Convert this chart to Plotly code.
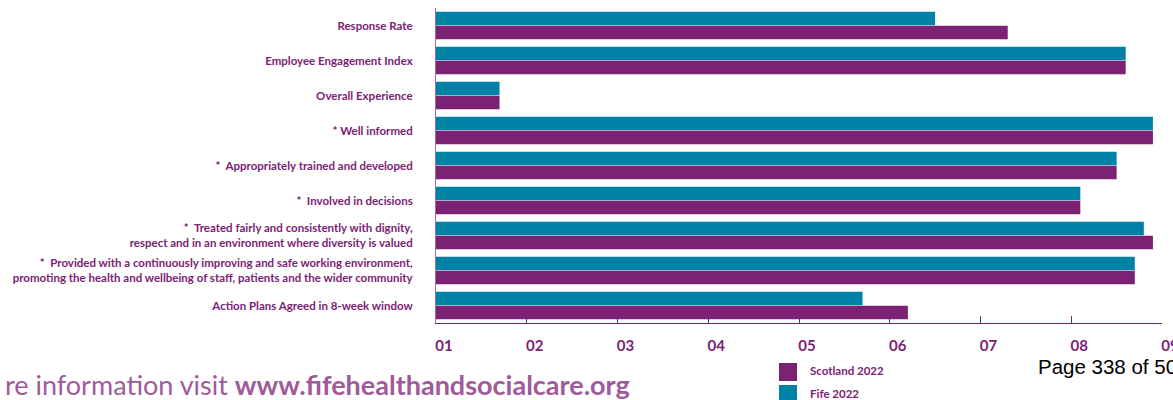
import plotly.graph_objects as go

# ── Data ────────────────────────────────────────────────────────────────────
categories = [
    "Response Rate",
    "Employee Engagement Index",
    "Overall Experience",
    "* Well informed",
    "*  Appropriately trained and developed",
    "*  Involved in decisions",
    "*  Treated fairly and consistently with dignity,<br>respect and in an environment where diversity is valued",
    "*  Provided with a continuously improving and safe working environment,<br>promoting the health and wellbeing of staff, patients and the wider community",
    "Action Plans Agreed in 8-week window",
]
fife_2022 = [55, 76, 7, 79, 75, 71, 78, 77, 47]
scotland_2022 = [63, 76, 7, 79, 75, 71, 79, 77, 52]

x_tickvals = [0, 10, 20, 30, 40, 50, 60, 70, 80]
x_ticktext = ["01", "02", "03", "04", "05", "06", "07", "08", "09"]

PURPLE = "#7B2275"
TEAL = "#0082A6"
FOOT = "#A05A9B"

# plot area in pixels (used to place paper-referenced extras)
L, R, T, B = 436, 1162, 8, 323
W, H = R - L, B - T


def px_x(x):
    return (x - L) / W


def px_y(y):
    return (B - y) / H


fig = go.Figure()
fig.add_trace(go.Bar(
    y=categories, x=fife_2022, orientation="h",
    name="Fife 2022", marker=dict(color=TEAL, line=dict(width=0)),
))
fig.add_trace(go.Bar(
    y=categories, x=scotland_2022, orientation="h",
    name="Scotland 2022", marker=dict(color=PURPLE, line=dict(width=0)),
))

fig.update_layout(
    width=1173, height=400,
    margin=dict(l=L, r=1173 - R, t=T, b=400 - B, autoexpand=False),
    paper_bgcolor="white", plot_bgcolor="white",
    barmode="group", bargap=0.2, bargroupgap=0.04,
    showlegend=False,
    font=dict(family="Lato, sans-serif", color=PURPLE),
)
fig.update_xaxes(
    range=[0, 80], tickvals=x_tickvals, ticktext=x_ticktext,
    automargin=False, showgrid=False, zeroline=False,
    showline=True, linecolor=PURPLE, linewidth=1,
    ticks="inside", ticklen=7, tickcolor=PURPLE,
    tickfont=dict(family="Lato", size=15, color=PURPLE, weight="bold"),
    ticklabelstandoff=9, ticklabelshift=8, ticklabeloverflow="allow",
)
fig.update_yaxes(
    autorange="reversed", automargin=False, showgrid=False,
    showline=True, linecolor="#A56BA0", linewidth=1,
    ticks="", ticklabelstandoff=20,
    tickfont=dict(family="Lato", size=11.5, color=PURPLE, weight="bold"),
)

# ── Legend (square swatches) ────────────────────────────────────────────────
for i, (name, col) in enumerate([("Scotland 2022", PURPLE), ("Fife 2022", TEAL)]):
    y0 = 363 + i * 22
    fig.add_shape(type="rect", xref="paper", yref="paper",
                  x0=px_x(779), x1=px_x(797), y0=px_y(y0), y1=px_y(y0 + 18),
                  fillcolor=col, line=dict(width=0))
    fig.add_annotation(text=f"<b>{name}</b>", xref="paper", yref="paper",
                       x=px_x(808), y=px_y(y0 + 8),
                       xanchor="left", yanchor="middle", showarrow=False,
                       font=dict(family="Lato", size=11.5, color=PURPLE))

# ── Footer texts ────────────────────────────────────────────────────────────
fig.add_annotation(text="re information visit <b>www.fifehealthandsocialcare.org</b>",
                   xref="paper", yref="paper", x=px_x(632), y=px_y(384),
                   xanchor="right", yanchor="middle", showarrow=False,
                   font=dict(family="Lato", size=27, color=FOOT))
fig.add_annotation(text="Page 338 of 50", xref="paper", yref="paper",
                   x=px_x(1036), y=px_y(366),
                   xanchor="left", yanchor="middle", showarrow=False,
                   font=dict(family="Liberation Sans, Arial", size=20.5, color="black"))

# drop the browser's default 8px body margin so the figure sits at the page corner
fig.write_html("out.html", config=dict(displayModeBar=False),
               post_script="document.body.style.margin = '0';")
